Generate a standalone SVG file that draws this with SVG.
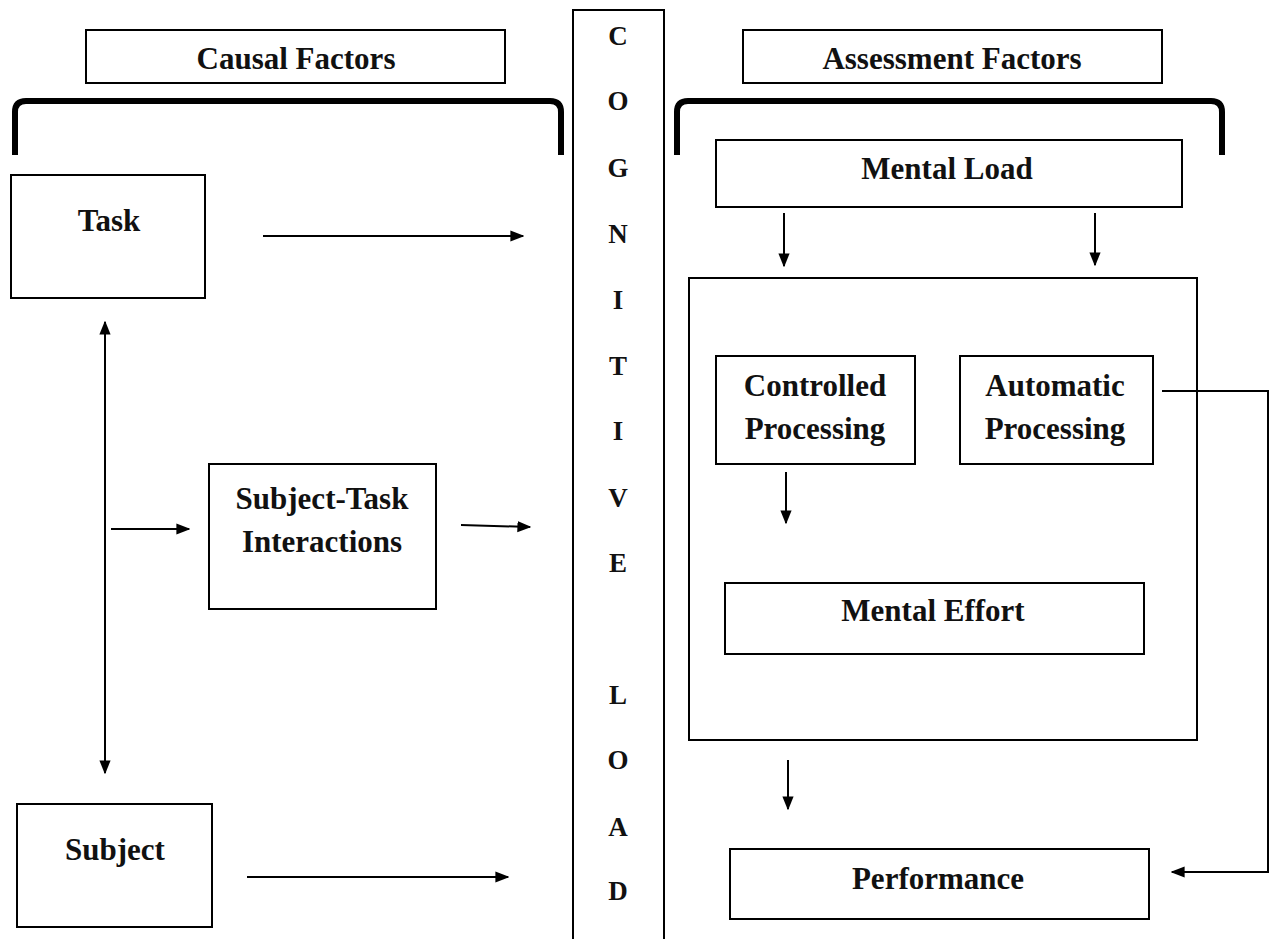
<svg xmlns="http://www.w3.org/2000/svg" width="1277" height="939" viewBox="0 0 1277 939">
<defs>
<marker id="ah" viewBox="0 0 10 10" refX="9" refY="5" markerWidth="7" markerHeight="7" markerUnits="strokeWidth" orient="auto-start-reverse"><path d="M0,1 L10,5 L0,9 z" fill="#000"/></marker>
<style>
.box{fill:#fff;stroke:#000;stroke-width:2}
.t{font-family:"Liberation Serif","Times New Roman",serif;font-weight:bold;font-size:31px;fill:#111;text-anchor:middle}
.c{font-family:"Liberation Serif","Times New Roman",serif;font-weight:bold;font-size:27px;fill:#111;text-anchor:middle}
.ln{fill:none;stroke:#000;stroke-width:2}
.br{fill:none;stroke:#000;stroke-width:6;stroke-linejoin:round}
</style>
</defs>
<rect width="1277" height="939" fill="#fff"/>
<g id="brackets">
<path class="br" d="M15,155 L15,112 Q15,101 26,101 L550,101 Q561,101 561,112 L561,155"/>
<path class="br" d="M677,155 L677,112 Q677,101 688,101 L1211,101 Q1222,101 1222,112 L1222,155"/>
</g>
<g id="causal"><rect class="box" x="86" y="30" width="419" height="53"/><text class="t" x="296" y="69">Causal Factors</text></g>
<g id="assessment"><rect class="box" x="743" y="30" width="419" height="53"/><text class="t" x="952" y="69">Assessment Factors</text></g>
<g id="cognitive-load">
<path class="ln" d="M573,939 L573,10 L664,10 L664,939"/>
<text class="c" x="618" y="45">C</text>
<text class="c" x="618" y="110">O</text>
<text class="c" x="618" y="177">G</text>
<text class="c" x="618" y="243">N</text>
<text class="c" x="618" y="309">I</text>
<text class="c" x="618" y="375">T</text>
<text class="c" x="618" y="440">I</text>
<text class="c" x="618" y="507">V</text>
<text class="c" x="618" y="572">E</text>
<text class="c" x="618" y="704">L</text>
<text class="c" x="618" y="769">O</text>
<text class="c" x="618" y="836">A</text>
<text class="c" x="618" y="900">D</text>
</g>
<g id="task"><rect class="box" x="11" y="175" width="194" height="123"/><text class="t" x="109" y="231">Task</text></g>
<g id="subject-task"><rect class="box" x="209" y="464" width="227" height="145"/><text class="t" x="322" y="509">Subject-Task</text><text class="t" x="322" y="552">Interactions</text></g>
<g id="subject"><rect class="box" x="17" y="804" width="195" height="123"/><text class="t" x="115" y="860">Subject</text></g>
<g id="mental-load"><rect class="box" x="716" y="140" width="466" height="67"/><text class="t" x="947" y="179">Mental Load</text></g>
<g id="processing"><rect class="box" x="689" y="278" width="508" height="462"/></g>
<g id="controlled"><rect class="box" x="716" y="356" width="199" height="108"/><text class="t" x="815" y="396">Controlled</text><text class="t" x="815" y="439">Processing</text></g>
<g id="automatic"><rect class="box" x="960" y="356" width="193" height="108"/><text class="t" x="1055" y="396">Automatic</text><text class="t" x="1055" y="439">Processing</text></g>
<g id="mental-effort"><rect class="box" x="725" y="583" width="419" height="71"/><text class="t" x="933" y="621">Mental Effort</text></g>
<g id="performance"><rect class="box" x="730" y="849" width="419" height="70"/><text class="t" x="938" y="889">Performance</text></g>
<g id="connectors">
<line class="ln" x1="263" y1="236" x2="523" y2="236" marker-end="url(#ah)"/>
<line class="ln" x1="105" y1="322" x2="105" y2="773" marker-start="url(#ah)" marker-end="url(#ah)"/>
<line class="ln" x1="111" y1="529" x2="189" y2="529" marker-end="url(#ah)"/>
<line class="ln" x1="461" y1="525" x2="530" y2="527" marker-end="url(#ah)"/>
<line class="ln" x1="247" y1="877" x2="508" y2="877" marker-end="url(#ah)"/>
<line class="ln" x1="784" y1="213" x2="784" y2="266" marker-end="url(#ah)"/>
<line class="ln" x1="1095" y1="213" x2="1095" y2="265" marker-end="url(#ah)"/>
<line class="ln" x1="786" y1="472" x2="786" y2="523" marker-end="url(#ah)"/>
<line class="ln" x1="788" y1="760" x2="788" y2="809" marker-end="url(#ah)"/>
<path class="ln" d="M1162,391 L1268,391 L1268,872 L1172,872" marker-end="url(#ah)"/>
</g>
</svg>
